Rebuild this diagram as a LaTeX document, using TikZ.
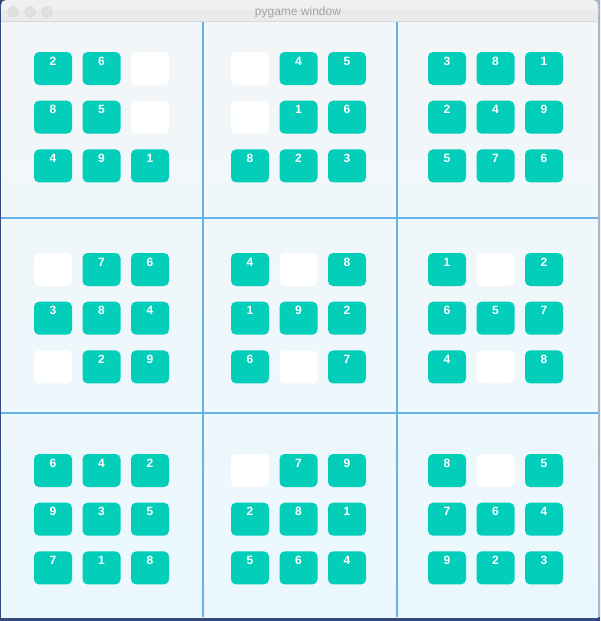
\documentclass[tikz,border=0pt]{standalone}
\usepackage{fontspec}
\setmainfont{Liberation Sans}
\usepackage{tikz}
\usetikzlibrary{positioning}

\definecolor{desk}{RGB}{52,74,126}
\definecolor{deskright}{RGB}{168,178,198}
\definecolor{bartop}{RGB}{240,240,240}
\definecolor{barbot}{RGB}{234,234,234}
\definecolor{bgtop}{RGB}{243,246,248}
\definecolor{bgbot}{RGB}{234,248,254}
\definecolor{gridline}{RGB}{100,180,232}
\definecolor{teal}{RGB}{2,206,186}

\begin{document}
\begin{tikzpicture}[x=1pt, y=-1pt,
    tile/.style={rectangle, rounded corners=5pt, minimum width=38pt,
        minimum height=33pt, inner sep=0pt, fill=teal},
    blank/.style={tile, fill=white},
    num/.style={anchor=base, inner sep=0pt, text=white,
        font=\fontsize{12}{12}\selectfont\bfseries},
    dot/.style={circle, minimum size=11pt, inner sep=0pt,
        fill=black!12, draw=black!16, line width=0.4pt}]
    \useasboundingbox (0,0) rectangle (600,621);

    % desktop behind the window
    \shade[left color=desk, right color=deskright] (0,0) rectangle (600,621);
    \fill[desk] (0,617) rectangle (600,621);

    % window body
    \shade[top color=bgtop, bottom color=bgbot] (1,10) rectangle (598,617);

    % title bar
    \fill[bartop, rounded corners=5pt] (1,0) rectangle (598,21);
    \fill[barbot] (1,10) rectangle (598,21);
    \draw[black!15, line width=0.8pt] (1,21) -- (598,21);
    \node[dot] (close) at (13,12) {};
    \node[dot] (mini) at (30,12) {};
    \node[dot] (zoom) at (47,12) {};
    \node[text=black!36, font=\fontsize{12}{12}\selectfont, anchor=base]
        (title) at (298,15.5) {pygame window};

    % panel grid
    \foreach \gx in {203, 397}
        \draw[gridline, line width=1.2pt] (\gx,21.5) -- (\gx,617);
    \foreach \gy in {218, 413}
        \draw[gridline, line width=1.2pt] (1,\gy) -- (598,\gy);

    % tiles, 0 is the empty tile
    \foreach \pr/\pc/\vals in {
            0/0/{2,6,0,8,5,0,4,9,1},
            0/1/{0,4,5,0,1,6,8,2,3},
            0/2/{3,8,1,2,4,9,5,7,6},
            1/0/{0,7,6,3,8,4,0,2,9},
            1/1/{4,0,8,1,9,2,6,0,7},
            1/2/{1,0,2,6,5,7,4,0,8},
            2/0/{6,4,2,9,3,5,7,1,8},
            2/1/{0,7,9,2,8,1,5,6,4},
            2/2/{8,0,5,7,6,4,9,2,3}} {
        \foreach \v [count=\k from 0] in \vals {
            \pgfmathtruncatemacro{\row}{int(\k/3)}
            \pgfmathtruncatemacro{\col}{mod(\k,3)}
            \pgfmathsetmacro{\tx}{53+197*\pc+48.5*\col}
            \pgfmathsetmacro{\ty}{68.5+201*\pr+48.7*\row}
            \ifnum\v=0
                \node[blank] (tile-\pr\pc-\k) at (\tx,\ty) {};
            \else
                \node[tile] (tile-\pr\pc-\k) at (\tx,\ty) {};
                \node[num] (num-\pr\pc-\k) at ([yshift=-13.3pt]tile-\pr\pc-\k.north) {\v};
            \fi
        }
    }
\end{tikzpicture}
\end{document}
